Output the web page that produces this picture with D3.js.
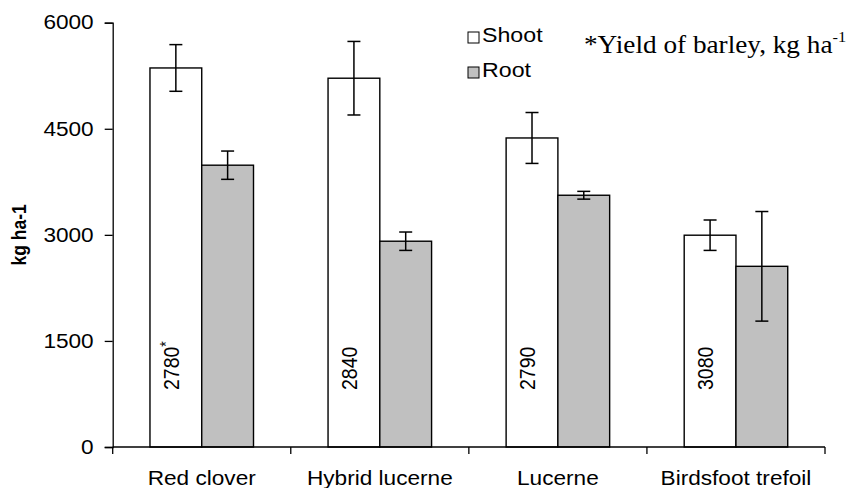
<!DOCTYPE html>
<html>
<head>
<meta charset="utf-8">
<style>
  body { margin: 0; background: #fff; }
  svg text { fill: #000; }
</style>
</head>
<body>
<svg id="mysvg"></svg>
<script src="https://cdnjs.cloudflare.com/ajax/libs/d3/7.8.5/d3.min.js"></script>
<script>
var categories = ["Red clover", "Hybrid lucerne", "Lucerne", "Birdsfoot trefoil"];
var shoot = [5360, 5215, 4370, 2995];
var shootErr = [330, 520, 360, 215];
var root = [3985, 2910, 3560, 2555];
var rootErr = [200, 130, 55, 775];
var barleyYield = ["2780*", "2840", "2790", "3080"];
var yTicks = [0, 1500, 3000, 4500, 6000];
var seriesNames = ["Shoot", "Root"];
var seriesColors = ["#ffffff", "#c0c0c0"];

var width = 858, height = 488;
var padding = {top: 22.7, right: 33, bottom: 41, left: 112.7};
var sx = 1.16; // picture is a bit stretched sideways
var sans = "'Liberation Sans', Arial, sans-serif";
var serif = "'Liberation Serif', 'Times New Roman', serif";

var svg = d3.select("#mysvg").attr("width", width).attr("height", height);

var xScale = d3.scaleBand().domain(categories)
  .range([padding.left, width - padding.right]);
var subScale = d3.scaleBand().domain(seriesNames)
  .range([0, xScale.bandwidth()]).paddingOuter(0.72).paddingInner(0);
var yScale = d3.scaleLinear().domain([0, 6000])
  .range([height - padding.bottom, padding.top]);

// y axis
var yAxis = d3.axisLeft(yScale).tickValues(yTicks).tickSize(8).tickPadding(11)
  .tickFormat(d3.format("d"));
var gy = svg.append("g").attr("transform", "translate(" + padding.left + ",0)").call(yAxis);
gy.select(".domain").attr("stroke", "#000").attr("stroke-width", 1.3);
gy.selectAll(".tick line").attr("stroke", "#000").attr("stroke-width", 1.3);
gy.selectAll(".tick text").attr("font-size", 19.5).attr("fill", "#000")
  .style("font-family", sans)
  .each(function(d) {
    var t = d3.select(this);
    var x = +t.attr("x");
    t.attr("x", null).attr("transform", "translate(" + x + ",0) scale(" + sx + ",1)");
  });

// y title
svg.append("text")
  .attr("transform", "translate(26," + yScale(3000) + ") scale(" + sx + ",1) rotate(-90)")
  .attr("text-anchor", "middle")
  .style("font-family", sans)
  .attr("font-size", 17.5).attr("font-weight", "bold")
  .text("kg ha-1");

// bars
var groups = svg.append("g").selectAll("g").data(categories).enter().append("g")
  .attr("transform", function(d) { return "translate(" + xScale(d) + ",0)"; });

var barData = function(d, i) {
  return [
    {name: "Shoot", v: shoot[i], e: shootErr[i]},
    {name: "Root", v: root[i], e: rootErr[i]}
  ];
};

groups.each(function(d, i) {
  var g = d3.select(this);
  var bars = barData(d, i);
  g.selectAll("rect").data(bars).enter().append("rect")
    .attr("x", function(b) { return subScale(b.name); })
    .attr("y", function(b) { return yScale(b.v); })
    .attr("width", subScale.bandwidth())
    .attr("height", function(b) { return yScale(0) - yScale(b.v); })
    .attr("fill", function(b, j) { return seriesColors[j]; })
    .attr("stroke", "#000").attr("stroke-width", 1.4);

  // error bars
  bars.forEach(function(b) {
    var cx = subScale(b.name) + subScale.bandwidth() / 2;
    g.append("line").attr("x1", cx).attr("x2", cx)
      .attr("y1", yScale(b.v + b.e)).attr("y2", yScale(b.v - b.e))
      .attr("stroke", "#000").attr("stroke-width", 1.5);
    [b.v + b.e, b.v - b.e].forEach(function(v) {
      g.append("line").attr("x1", cx - 6.5).attr("x2", cx + 6.5)
        .attr("y1", yScale(v)).attr("y2", yScale(v))
        .attr("stroke", "#000").attr("stroke-width", 1.5);
    });
  });

  // barley yield label inside shoot bar
  var lx = subScale("Shoot") + subScale.bandwidth() / 2 + 3;
  var lbl = g.append("text")
    .attr("transform", "translate(" + lx + "," + (yScale(0) - 57) + ") scale(" + sx + ",1) rotate(-90)")
    .style("font-family", sans)
    .attr("font-size", 19.5);
  var s = barleyYield[i];
  if (s.slice(-1) === "*") {
    lbl.text(s.slice(0, -1));
    lbl.append("tspan").attr("font-size", 14).attr("dy", -6).text("*");
  } else {
    lbl.text(s);
  }
});

// x axis
var xAxis = d3.axisBottom(xScale).tickSize(0).tickPadding(24);
var gx = svg.append("g").attr("transform", "translate(0," + yScale(0) + ")").call(xAxis);
gx.select(".domain").remove();
gx.selectAll(".tick text").attr("font-size", 19.5).attr("fill", "#000")
  .style("font-family", sans)
  .each(function() {
    var t = d3.select(this);
    var y = +t.attr("y");
    t.attr("y", null).attr("transform", "translate(0," + y + ") scale(" + sx + ",1)");
  });
svg.append("line")
  .attr("x1", padding.left).attr("x2", width - padding.right)
  .attr("y1", yScale(0)).attr("y2", yScale(0))
  .attr("stroke", "#000").attr("stroke-width", 1.3);
// tick marks between categories
var bounds = categories.map(function(c) { return xScale(c); }).concat([xScale.range()[1]]);
svg.append("g").selectAll("line").data(bounds).enter().append("line")
  .attr("x1", function(d) { return d; }).attr("x2", function(d) { return d; })
  .attr("y1", yScale(0)).attr("y2", yScale(0) + 7)
  .attr("stroke", "#000").attr("stroke-width", 1.3);

// legend
var legend = svg.append("g").attr("transform", "translate(468,42)");
seriesNames.forEach(function(n, i) {
  var lg = legend.append("g").attr("transform", "translate(0," + (i * 35) + ")");
  lg.append("rect").attr("x", 0).attr("y", -10).attr("width", 11).attr("height", 11)
    .attr("fill", seriesColors[i]).attr("stroke", "#000").attr("stroke-width", 1);
  lg.append("text").attr("transform", "translate(14,0) scale(" + sx + ",1)")
    .style("font-family", sans)
    .attr("font-size", 20).text(n);
});

// note
var note = svg.append("text")
  .attr("transform", "translate(584,53) scale(1.09,1)")
  .style("font-family", serif)
  .attr("font-size", 25).text("*Yield of barley, kg ha");
note.append("tspan").attr("font-size", 15).attr("dy", -11).text("-1");
</script>
</body>
</html>
